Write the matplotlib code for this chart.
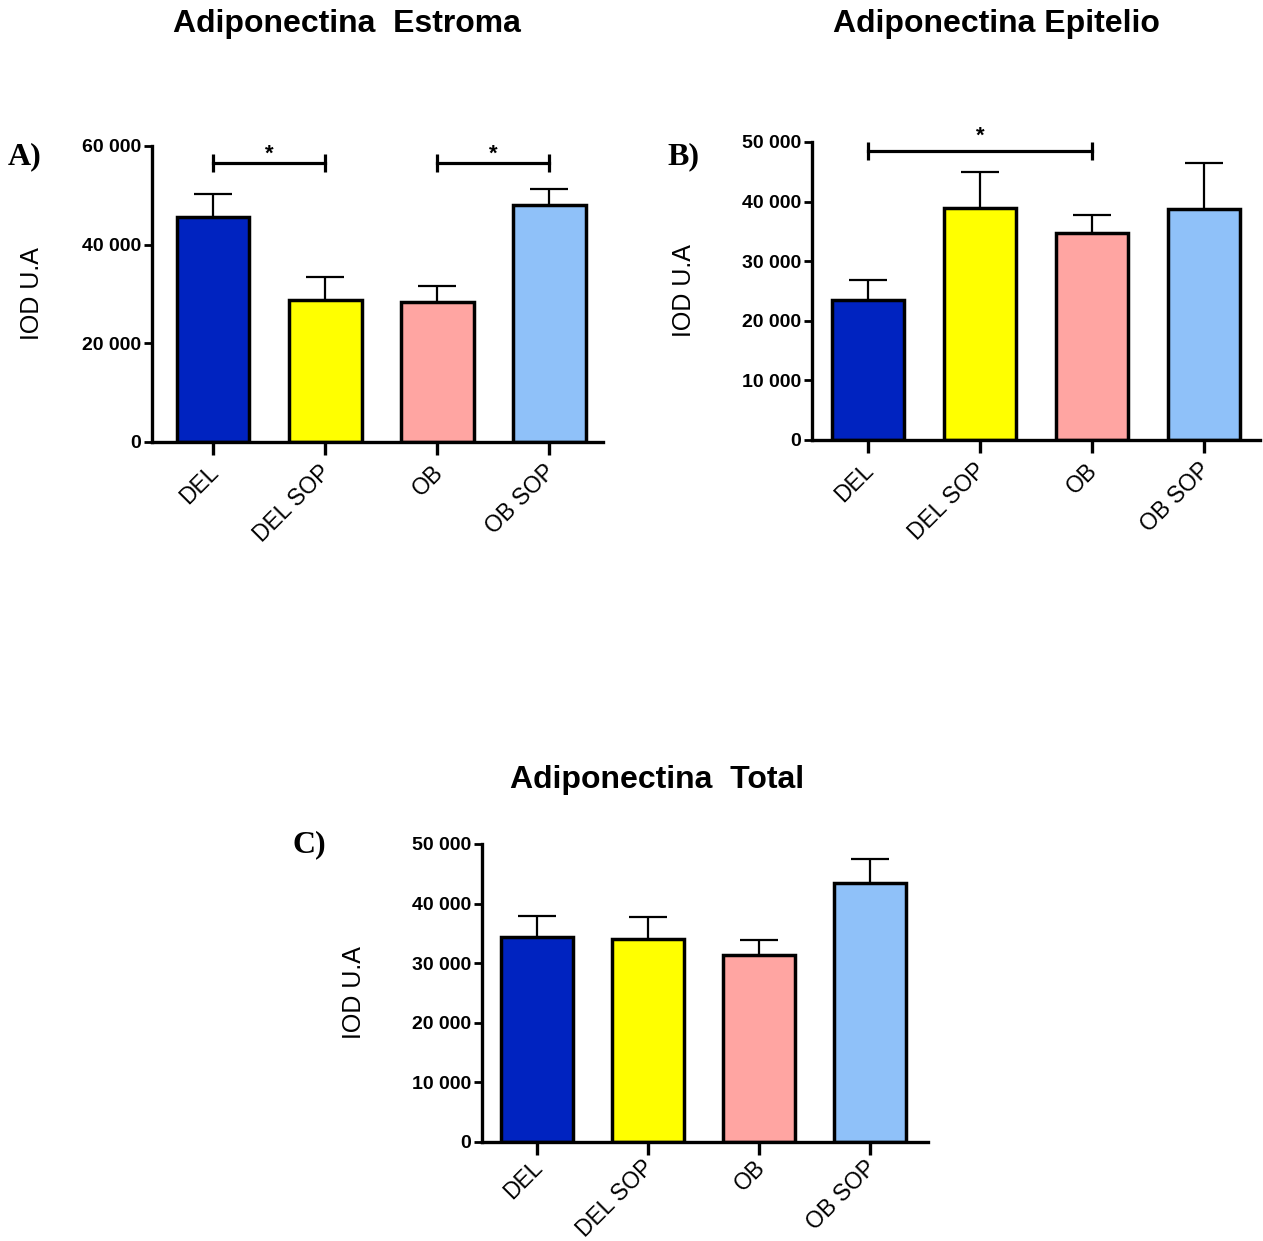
import numpy as np
import matplotlib
matplotlib.use('Agg')
from matplotlib import pyplot as plt
from matplotlib.ticker import FuncFormatter, MultipleLocator
from matplotlib.transforms import ScaledTranslation

groups = ['DEL', 'DEL SOP', 'OB', 'OB SOP']
colors = ['#0023C0', '#FFFF00', '#FFA5A2', '#8FC1F9']

# Estroma
mean_a = [45600, 28800, 28400, 47950]
sem_a = [4660, 4650, 3240, 3350]
sig_a = [(0, 1, 56500), (2, 3, 56500)]

# Epitelio
mean_b = [23550, 38950, 34750, 38800]
sem_b = [3250, 6000, 2920, 7600]
sig_b = [(0, 2, 48500)]

# Total
mean_c = [34450, 34000, 31400, 43450]
sem_c = [3550, 3780, 2500, 4080]

W, H = 1263, 1241
fig = plt.figure(figsize=(W / 100, H / 100), dpi=100)

tick_font = ['Liberation Sans Narrow', 'Liberation Sans', 'DejaVu Sans']
text_font = ['Liberation Sans', 'DejaVu Sans']
serif_font = ['Liberation Serif', 'DejaVu Serif']


def thousands(v, pos):
    return f'{int(v):,}'.replace(',', ' ')


def bar_panel(rect, means, sems, ymax, ystep, xlim, sigs=(), star_gap=0.03,
              lab_drop=0.185):
    l, b, r, t = rect
    ax = fig.add_axes([l / W, 1 - b / H, (r - l) / W, (b - t) / H])
    x = np.arange(len(groups))
    tops = np.array(means) + np.array(sems)
    # upper error bars, drawn behind the bars
    ax.vlines(x, means, tops, colors='black', linewidth=1.6, zorder=1)
    ax.hlines(tops, x - 0.17, x + 0.17, colors='black', linewidth=1.6, zorder=1)
    ax.bar(x, means, width=0.65, color=colors, edgecolor='black',
           linewidth=2.5, zorder=2)
    for i, j, h in sigs:
        ax.plot([i, j], [h, h], color='black', linewidth=2.3, clip_on=False)
        d = ymax * 0.03
        ax.vlines([i, j], h - d, h + d, colors='black', linewidth=2.3,
                  clip_on=False)
        ax.text((i + j) / 2, h + ymax * star_gap, '*', ha='center',
                va='center', fontsize=16, fontweight='bold', family=text_font,
                clip_on=False)
    ax.set_xlim(*xlim)
    ax.set_ylim(0, ymax)
    ax.yaxis.set_major_locator(MultipleLocator(ystep))
    ax.yaxis.set_major_formatter(FuncFormatter(thousands))
    ax.set_xticks(x)
    ax.set_xticklabels([])
    # slanted group names, ending just under each tick
    lab_tr = ax.get_xaxis_transform() + ScaledTranslation(
        -0.06, -lab_drop, fig.dpi_scale_trans)
    for xi, name in zip(x, groups):
        ax.text(xi, 0, name, transform=lab_tr, rotation=45, ha='right',
                va='top', rotation_mode='anchor', fontsize=16.5,
                family=text_font)
    for lab in ax.get_yticklabels():
        lab.set_fontsize(14)
        lab.set_fontweight('bold')
        lab.set_family(tick_font)
    for s in ['top', 'right']:
        ax.spines[s].set_visible(False)
    for s in ['left', 'bottom']:
        ax.spines[s].set_linewidth(2.4)
    ax.tick_params(axis='y', length=6, width=2, pad=2)
    ax.tick_params(axis='x', length=9, width=2.4)
    ax.set_ylabel('IOD U.A', fontsize=18, family=text_font)
    ax.patch.set_alpha(0)
    return ax


ax_a = bar_panel((152, 442, 603, 146), mean_a, sem_a, 60000, 20000,
                 (-0.545, 3.48), sig_a, star_gap=0.032)
ax_a.yaxis.set_label_coords(-0.24, 0.5)
ax_b = bar_panel((812, 440, 1260, 142), mean_b, sem_b, 50000, 10000,
                 (-0.5, 3.5), sig_b, star_gap=0.05)
ax_b.yaxis.set_label_coords(-0.258, 0.5)
ax_c = bar_panel((482, 1142, 928, 844), mean_c, sem_c, 50000, 10000,
                 (-0.495, 3.52), lab_drop=0.14)
ax_c.yaxis.set_label_coords(-0.261, 0.5)

title_kw = dict(ha='center', va='center', fontsize=23, fontweight='bold',
                family=text_font)
fig.text(347 / W, 1 - 24 / H, 'Adiponectina  Estroma', **title_kw)
fig.text(996 / W, 1 - 24 / H, 'Adiponectina Epitelio', **title_kw)
fig.text(657 / W, 1 - 780 / H, 'Adiponectina  Total', **title_kw)

lab_kw = dict(ha='left', va='center', fontsize=23, fontweight='bold',
              family=serif_font)
fig.text(8 / W, 1 - 157 / H, 'A)', **lab_kw)
fig.text(667 / W, 1 - 157 / H, 'B)', **lab_kw)
fig.text(292 / W, 1 - 845 / H, 'C)', **lab_kw)

fig.savefig('out.png', dpi=100, facecolor='white')
